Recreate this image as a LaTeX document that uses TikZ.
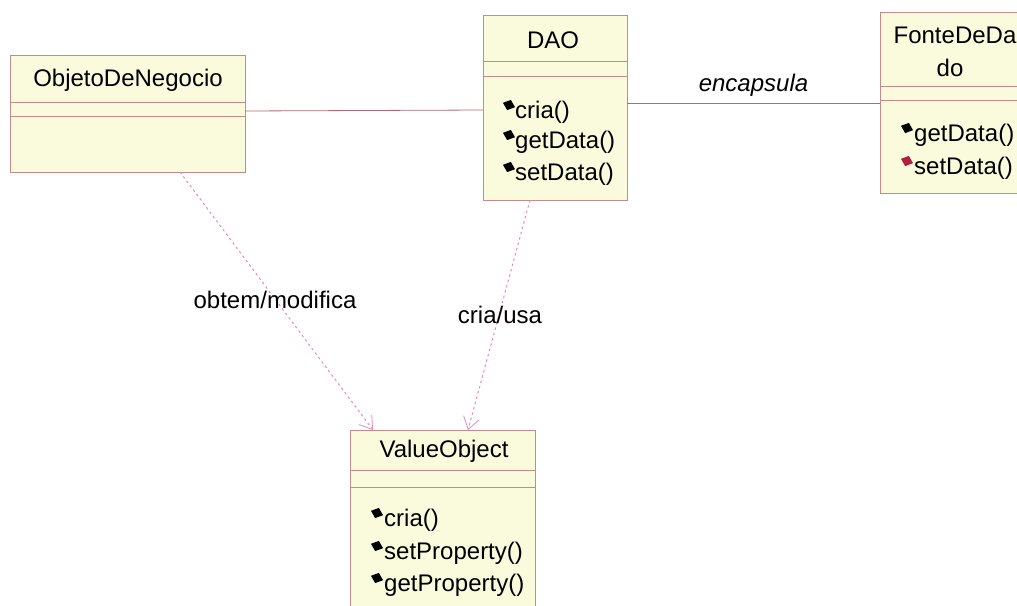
\documentclass[tikz,border=0pt]{standalone}
\usepackage{fontspec}
\setmainfont{Liberation Sans}
\usetikzlibrary{shapes.geometric,arrows.meta}
\definecolor{boxfill}{HTML}{FAFADC}
\definecolor{boxline}{HTML}{C58A8A}
\definecolor{assoc}{HTML}{B06A74}
\definecolor{deplink}{HTML}{E48AC0}
\definecolor{redop}{HTML}{B02040}
\tikzset{
  classbox/.style={draw=boxline, fill=boxfill, line width=0.9pt, inner sep=0pt, outer sep=0pt, anchor=north west},
  sep/.style={draw=boxline, line width=0.9pt},
  txt/.style={font=\fontsize{24}{28}\selectfont, inner sep=0pt},
  op/.style={txt, anchor=west},
  opicon/.style={diamond, fill=#1, inner sep=0pt, minimum width=13pt, minimum height=11pt, rotate=-20},
  opicon/.default=black,
  assocline/.style={draw=assoc, line width=0.8pt},
  depline/.style={draw=deplink, line width=1pt, dash pattern=on 2.5pt off 3pt,
    -{Straight Barb[length=12pt, width=16pt, line width=0.8pt]}}
}
\begin{document}
\begin{tikzpicture}[x=1pt, y=-1pt]
\useasboundingbox[fill=white] (0,0) rectangle (1017,605);

% ObjetoDeNegocio
\node[classbox, minimum width=235pt, minimum height=117pt] (obj) at (10,55) {};
\draw[sep] (obj.west |- 0,102) -- (obj.east |- 0,102);
\draw[sep] (obj.west |- 0,116) -- (obj.east |- 0,116);
\node[txt] (objname) at (128,80) {ObjetoDeNegocio};

% DAO
\node[classbox, minimum width=144pt, minimum height=185pt] (dao) at (483,15) {};
\draw[sep] (dao.west |- 0,61) -- (dao.east |- 0,61);
\draw[sep] (dao.west |- 0,76) -- (dao.east |- 0,76);
\node[txt] (daoname) at (553,40) {DAO};
\node[opicon] (daoi1) at (509,105) {};
\node[op] (dao1) at (515,112) {cria()};
\node[opicon] (daoi2) at (509,135) {};
\node[op] (dao2) at (515,142) {getData()};
\node[opicon] (daoi3) at (509,167) {};
\node[op] (dao3) at (515,174) {setData()};

% FonteDeDado
\node[classbox, minimum width=145pt, minimum height=181pt] (fonte) at (880,12) {};
\draw[sep] (fonte.west |- 0,86) -- (fonte.east |- 0,86);
\draw[sep] (fonte.west |- 0,100) -- (fonte.east |- 0,100);
\node[txt] (fontename1) at (955,35) {FonteDeDa};
\node[txt] (fontename2) at (950,68) {do};
\node[opicon] (fontei1) at (907,128) {};
\node[op] (fonte1) at (914,135) {getData()};
\node[opicon=redop] (fontei2) at (907,161) {};
\node[op] (fonte2) at (914,168) {setData()};

% ValueObject
\node[classbox, minimum width=185pt, minimum height=190pt] (vo) at (350,430) {};
\draw[sep] (vo.west |- 0,470) -- (vo.east |- 0,470);
\draw[sep] (vo.west |- 0,487) -- (vo.east |- 0,487);
\node[txt] (voname) at (444,451) {ValueObject};
\node[opicon] (voi1) at (377,513) {};
\node[op] (vo1) at (384,520) {cria()};
\node[opicon] (voi2) at (377,546) {};
\node[op] (vo2) at (384,553) {setProperty()};
\node[opicon] (voi3) at (377,578) {};
\node[op] (vo3) at (384,585) {getProperty()};

% associations
\draw[assocline] (obj.east |- 0,111) -- (dao.west |- 0,110);
\draw[assocline] (dao.east |- 0,103) -- (fonte.west |- 0,103)
  node[txt, pos=0.5, above=6pt, font=\fontsize{24}{28}\selectfont\itshape] (enc) {encapsula};

% dependencies
\draw[depline] (obj.south -| 180,0) -- (vo.north -| 373,0);
\draw[depline] (dao.south -| 530,0) -- (vo.north -| 468,0);
\node[txt] (lbl1) at (275,300) {obtem/modifica};
\node[txt] (lbl2) at (500,315) {cria/usa};
\end{tikzpicture}
\end{document}
